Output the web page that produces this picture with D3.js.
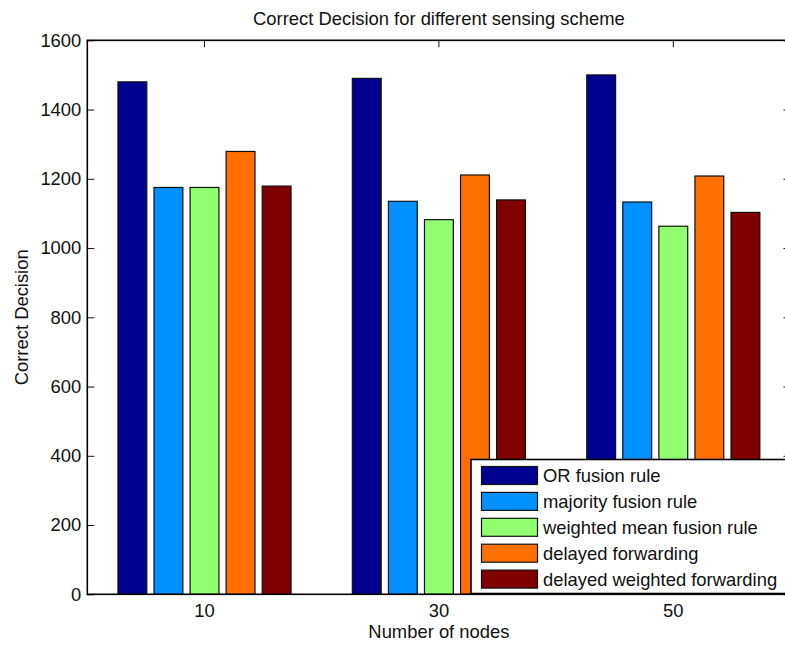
<!DOCTYPE html>
<html>
<head>
<meta charset="utf-8">
<script src="https://cdn.jsdelivr.net/npm/d3@7"></script>
<style>
  html, body { margin: 0; padding: 0; background: #fff; }
  svg { display: block; font-family: "Liberation Sans", Arial, Helvetica, sans-serif; }
</style>
</head>
<body>
<svg id="chart" width="785" height="648"></svg>
<script>
// ---- data ----
const categories = ["10", "30", "50"];
const seriesNames = ["OR fusion rule", "majority fusion rule", "weighted mean fusion rule", "delayed forwarding", "delayed weighted forwarding"];
const orFusion = [1480, 1490, 1500];
const majorityFusion = [1175, 1135, 1133];
const weightedMeanFusion = [1175, 1082, 1063];
const delayedForwarding = [1279, 1211, 1208];
const delayedWeightedForwarding = [1179, 1139, 1103];
const seriesColors = ["#000090", "#0090ff", "#90ff70", "#ff7000", "#800000"];
const yTicks = [0, 200, 400, 600, 800, 1000, 1200, 1400, 1600];
const titleText = "Correct Decision for different sensing scheme";
const xLabel = "Number of nodes";
const yLabel = "Correct Decision";

const seriesValues = [orFusion, majorityFusion, weightedMeanFusion, delayedForwarding, delayedWeightedForwarding];

(function () {
// ---- layout ----
const svg = d3.select("#chart");
const pL = 87.3, pR = 790.5, pT = 40.3, pB = 594.3;
const fontSize = 18.4;

const x = d3.scaleBand().domain(categories).range([pL, pR]).padding(0);
const groupFrac = Math.min(0.8, 5 / (5 + 1.5));
const inner = d3.scaleBand().domain(d3.range(seriesNames.length))
  .range([0, x.bandwidth() * groupFrac]).paddingInner(0.2).paddingOuter(0.1);
const groupOffset = x.bandwidth() * (1 - groupFrac) / 2;
const y = d3.scaleLinear().domain([0, 1600]).range([pB, pT]);

svg.append("rect").attr("x", 0).attr("y", 0).attr("width", 785).attr("height", 648).attr("fill", "#fff");

// bars
const g = svg.append("g");
seriesValues.forEach((vals, si) => {
  g.selectAll(null).data(vals).enter().append("rect")
    .attr("x", (d, i) => x(categories[i]) + groupOffset + inner(si))
    .attr("y", d => y(d))
    .attr("width", inner.bandwidth())
    .attr("height", d => y(0) - y(d))
    .attr("fill", seriesColors[si])
    .attr("stroke", "#111")
    .attr("stroke-width", 1.2);
});

// axes
const tickLen = 7;
const axisLeft = d3.axisLeft(y).tickValues(yTicks).tickSize(-tickLen).tickPadding(6).tickFormat(d3.format("d"));
const gl = svg.append("g").attr("transform", `translate(${pL},0)`).call(axisLeft);
gl.select(".domain").remove();
gl.selectAll("text").attr("font-size", fontSize).attr("fill", "#111").attr("font-family", "Liberation Sans, Arial, sans-serif");
gl.selectAll("line").attr("stroke", "#111");

const axisRight = d3.axisRight(y).tickValues(yTicks).tickSize(-tickLen).tickFormat("");
const gr = svg.append("g").attr("transform", `translate(${pR},0)`).call(axisRight);
gr.select(".domain").remove();
gr.selectAll("line").attr("stroke", "#111");

const axisTop = d3.axisTop(x).tickSize(-tickLen).tickFormat("");
const gt = svg.append("g").attr("transform", `translate(0,${pT})`).call(axisTop);
gt.select(".domain").remove();
gt.selectAll("line").attr("stroke", "#111");

const axisBottom = d3.axisBottom(x).tickSize(0).tickPadding(10);
const gb = svg.append("g").attr("transform", `translate(0,${pB})`).call(axisBottom);
gb.select(".domain").remove();
gb.selectAll("text").attr("font-size", fontSize).attr("fill", "#111").attr("font-family", "Liberation Sans, Arial, sans-serif");

// frame
svg.append("rect").attr("x", pL).attr("y", pT).attr("width", pR - pL).attr("height", pB - pT)
  .attr("fill", "none").attr("stroke", "#000").attr("stroke-width", 1.6);

// titles
svg.append("text").attr("x", (pL + pR) / 2).attr("y", 25).attr("text-anchor", "middle")
  .attr("font-size", fontSize).attr("fill", "#111").text(titleText);
svg.append("text").attr("x", (pL + pR) / 2).attr("y", 638).attr("text-anchor", "middle")
  .attr("font-size", fontSize).attr("fill", "#111").text(xLabel);
svg.append("text").attr("transform", `translate(28,${(pT + pB) / 2}) rotate(-90)`).attr("text-anchor", "middle")
  .attr("font-size", fontSize).attr("fill", "#111").text(yLabel);

// legend
const lgX = 471, lgY = 459.5, lgW = 330, lgH = 134;
const lg = svg.append("g");
lg.append("rect").attr("x", lgX).attr("y", lgY).attr("width", lgW).attr("height", lgH)
  .attr("fill", "#fff").attr("stroke", "#000").attr("stroke-width", 1.6);
const rowStep = 25.9, row0 = 475.5;
seriesNames.forEach((name, i) => {
  const cy = row0 + i * rowStep;
  lg.append("rect").attr("x", 481.5).attr("y", cy - 9).attr("width", 56).attr("height", 18)
    .attr("fill", seriesColors[i]).attr("stroke", "#111").attr("stroke-width", 1.2);
  lg.append("text").attr("x", 543).attr("y", cy + 6.5).attr("font-size", fontSize).attr("fill", "#111").text(name);
});
})();
</script>
</body>
</html>
